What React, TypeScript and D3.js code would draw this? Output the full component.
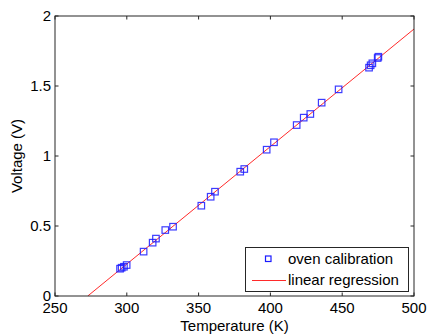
import React, { useEffect, useRef } from "react";
import * as d3 from "d3";

// oven calibration points (temperature K, voltage V)
const temps = [
  295.3, 296.4, 298.0, 299.9, 311.7, 318.0, 320.3, 326.8, 332.2, 351.9, 358.4,
  361.4, 379.0, 381.8, 397.4, 402.5, 418.3, 423.2, 427.8, 435.7, 447.5, 468.7,
  469.8, 471.0, 474.7, 475.2,
];
const volts = [
  0.195, 0.202, 0.209, 0.221, 0.317, 0.381, 0.41, 0.471, 0.495, 0.645, 0.709,
  0.745, 0.888, 0.907, 1.045, 1.098, 1.221, 1.274, 1.3, 1.381, 1.476, 1.631,
  1.648, 1.662, 1.7, 1.709,
];
// linear regression: V = slope * T + intercept
const slope = 0.008394;
const intercept = -2.29;

const xTicks = [250, 300, 350, 400, 450, 500];
const yTicks = [0, 0.5, 1, 1.5, 2];
const legendLabels = ["oven calibration", "linear regression"];

const width = 428;
const height = 335;
const margin = { top: 16, right: 14, bottom: 39, left: 55 };

const App = () => {
  const ref = useRef<SVGSVGElement>(null);

  useEffect(() => {
    const svg = d3.select(ref.current);
    svg.selectAll("*").remove();
    const font = "Liberation Sans, Arial, sans-serif";
    const axisColor = "#262626";

    const x = d3
      .scaleLinear()
      .domain([250, 500])
      .range([margin.left, width - margin.right]);
    const y = d3
      .scaleLinear()
      .domain([0, 2])
      .range([height - margin.bottom, margin.top]);

    svg.append("rect").attr("width", width).attr("height", height).attr("fill", "#fff");

    //regression line, clipped to the plot box
    svg
      .append("clipPath")
      .attr("id", "plotclip")
      .append("rect")
      .attr("x", margin.left)
      .attr("y", margin.top)
      .attr("width", width - margin.left - margin.right)
      .attr("height", height - margin.top - margin.bottom);

    const xStart = -intercept / slope;
    const lineData = [xStart, 500].map((t) => ({ t, v: slope * t + intercept }));
    const line = d3
      .line<{ t: number; v: number }>()
      .x((d) => x(d.t))
      .y((d) => y(d.v));
    svg
      .append("path")
      .attr("d", line(lineData))
      .attr("fill", "none")
      .attr("stroke", "#ff2a2a")
      .attr("stroke-width", 1)
      .attr("clip-path", "url(#plotclip)");

    //data markers
    const s = 6.5;
    svg
      .append("g")
      .selectAll("rect")
      .data(temps.map((t, i) => ({ t, v: volts[i] })))
      .enter()
      .append("rect")
      .attr("x", (d) => x(d.t) - s / 2)
      .attr("y", (d) => y(d.v) - s / 2)
      .attr("width", s)
      .attr("height", s)
      .attr("fill", "none")
      .attr("stroke", "#1a1aff")
      .attr("stroke-opacity", 0.85)
      .attr("stroke-width", 1.2);

    //axes box
    const x0 = margin.left;
    const x1 = width - margin.right;
    const y0 = height - margin.bottom;
    const y1 = margin.top;
    svg
      .append("rect")
      .attr("x", x0)
      .attr("y", y1)
      .attr("width", x1 - x0)
      .attr("height", y0 - y1)
      .attr("fill", "none")
      .attr("stroke", axisColor)
      .attr("stroke-width", 1);

    const tl = 3.5;
    const ticks = svg.append("g").attr("stroke", axisColor).attr("stroke-width", 1);
    xTicks.forEach((t) => {
      ticks.append("line").attr("x1", x(t)).attr("x2", x(t)).attr("y1", y0).attr("y2", y0 - tl);
      ticks.append("line").attr("x1", x(t)).attr("x2", x(t)).attr("y1", y1).attr("y2", y1 + tl);
    });
    yTicks.forEach((t) => {
      ticks.append("line").attr("x1", x0).attr("x2", x0 + tl).attr("y1", y(t)).attr("y2", y(t));
      ticks.append("line").attr("x1", x1).attr("x2", x1 - tl).attr("y1", y(t)).attr("y2", y(t));
    });

    svg
      .append("g")
      .selectAll("text")
      .data(xTicks)
      .enter()
      .append("text")
      .attr("x", (d) => x(d))
      .attr("y", y0 + 17)
      .attr("text-anchor", "middle")
      .style("font-family", font)
      .style("font-size", "15px")
      .attr("fill", "#000")
      .text((d) => d);

    svg
      .append("g")
      .selectAll("text")
      .data(yTicks)
      .enter()
      .append("text")
      .attr("x", x0 - 4)
      .attr("y", (d) => y(d) + 5)
      .attr("text-anchor", "end")
      .style("font-family", font)
      .style("font-size", "15px")
      .attr("fill", "#000")
      .text((d) => d);

    svg
      .append("text")
      .attr("x", (x0 + x1) / 2)
      .attr("y", height - 4)
      .attr("text-anchor", "middle")
      .style("font-family", font)
      .style("font-size", "15px")
      .text("Temperature (K)");

    svg
      .append("text")
      .attr("transform", `translate(22,${(y0 + y1) / 2}) rotate(-90)`)
      .attr("text-anchor", "middle")
      .style("font-family", font)
      .style("font-size", "15px")
      .text("Voltage (V)");

    //legend
    const legend = svg.append("g").attr("class", "legend");
    legend
      .append("rect")
      .attr("x", 245.5)
      .attr("y", 247.5)
      .attr("width", 163)
      .attr("height", 44)
      .attr("fill", "#fff")
      .attr("stroke", axisColor)
      .attr("stroke-width", 1);
    legend
      .append("rect")
      .attr("x", 265.5)
      .attr("y", 256)
      .attr("width", 5.5)
      .attr("height", 5.5)
      .attr("fill", "none")
      .attr("stroke", "#1a1aff")
      .attr("stroke-width", 1.2);
    legend
      .append("line")
      .attr("x1", 252)
      .attr("x2", 286)
      .attr("y1", 280.5)
      .attr("y2", 280.5)
      .attr("stroke", "#ff2a2a")
      .attr("stroke-width", 1);
    legend
      .selectAll("text")
      .data(legendLabels)
      .enter()
      .append("text")
      .attr("x", 288)
      .attr("y", (d, i) => 264 + i * 21)
      .style("font-family", font)
      .style("font-size", "15px")
      .text((d) => d);
  }, []);

  return (
    <svg
      ref={ref}
      width={width}
      height={height}
      style={{ position: "absolute", left: 0, top: 0 }}
    ></svg>
  );
};

export default App;
